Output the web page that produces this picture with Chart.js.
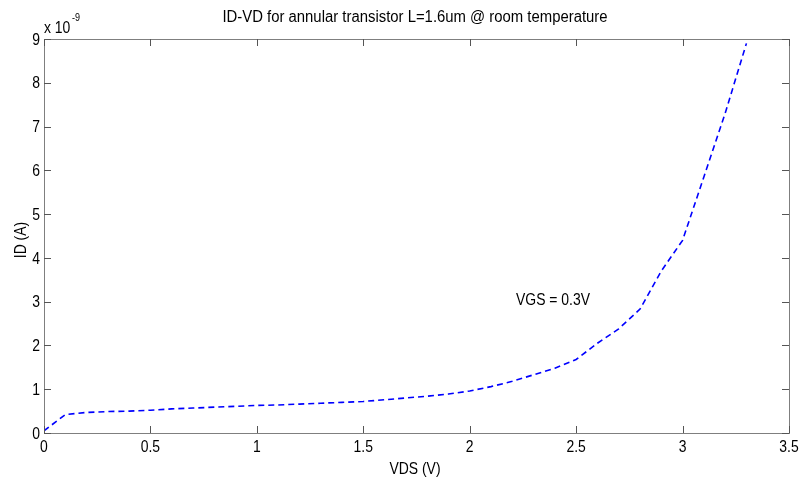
<!DOCTYPE html>
<html>
<head>
<meta charset="utf-8">
<script src="https://cdn.jsdelivr.net/npm/chart.js@4"></script>
<style>
html,body{margin:0;padding:0;background:#fff;}
#wrap{width:801px;height:478px;}
</style>
</head>
<body>
<div id="wrap"><canvas id="c" width="801" height="478"></canvas></div>
<script>
const vds = [0,0.1,0.2,0.3,0.4,0.5,0.6,0.7,0.8,0.9,1.0,1.1,1.2,1.3,1.4,1.5,1.6,1.7,1.8,1.9,2.0,2.1,2.2,2.3,2.4,2.5,2.6,2.7,2.8,2.9,3.0,3.1,3.2,3.3];
const idNano = [0.05,0.42,0.47,0.49,0.50,0.52,0.55,0.57,0.59,0.61,0.63,0.64,0.66,0.68,0.70,0.72,0.76,0.80,0.84,0.89,0.96,1.06,1.18,1.33,1.48,1.68,2.05,2.38,2.83,3.70,4.40,5.85,7.30,8.90];
const xTicks = [0,0.5,1,1.5,2,2.5,3,3.5];
const yTicks = [0,1,2,3,4,5,6,7,8,9];
const titleText = 'ID-VD for annular transistor L=1.6um @ room temperature';
const xLabel = 'VDS (V)';
const yLabel = 'ID (A)';
const annotation = 'VGS = 0.3V';

const FONT = '"Liberation Sans", Arial, sans-serif';
const SQ = 0.82; // horizontal condensing to mimic MATLAB's narrow Helvetica

function txt(ctx, s, x, y, size, align, sq, rot) {
  ctx.save();
  ctx.translate(x, y);
  if (rot) ctx.rotate(rot);
  ctx.scale(sq, 1);
  ctx.font = size + 'px ' + FONT;
  ctx.textAlign = align;
  ctx.textBaseline = 'middle';
  ctx.fillStyle = '#000';
  ctx.fillText(s, 0, 0);
  ctx.restore();
}

const boxPlugin = {
  id: 'box',
  afterDraw(chart) {
    const {ctx, chartArea: a, scales: {x, y}} = chart;
    ctx.save();
    ctx.strokeStyle = '#7f7f7f';
    ctx.lineWidth = 1;
    ctx.strokeRect(a.left + 0.5, a.top + 0.5, a.right - a.left, a.bottom - a.top);
    ctx.strokeStyle = '#555';
    const tl = 7;
    ctx.beginPath();
    x.ticks.forEach(t => {
      const px = Math.round(x.getPixelForValue(t.value)) + 0.5;
      ctx.moveTo(px, a.bottom); ctx.lineTo(px, a.bottom - tl);
      ctx.moveTo(px, a.top); ctx.lineTo(px, a.top + tl);
    });
    y.ticks.forEach(t => {
      const py = Math.round(y.getPixelForValue(t.value)) + 0.5;
      ctx.moveTo(a.left, py); ctx.lineTo(a.left + tl, py);
      ctx.moveTo(a.right, py); ctx.lineTo(a.right - tl, py);
    });
    ctx.stroke();
    ctx.restore();
    // tick labels
    x.ticks.forEach(t => txt(ctx, String(t.value), x.getPixelForValue(t.value), a.bottom + 14, 17, 'center', SQ));
    y.ticks.forEach(t => txt(ctx, String(t.value), a.left - 4, y.getPixelForValue(t.value) + 1, 17, 'right', SQ));
    // titles
    txt(ctx, titleText, 415, 18, 16, 'center', 0.93);
    txt(ctx, xLabel, 415, 469, 17, 'center', SQ);
    txt(ctx, yLabel, 21, 240, 17, 'center', SQ, -Math.PI / 2);
    // exponent
    txt(ctx, 'x 10', a.left, 28, 17, 'left', SQ);
    txt(ctx, '-9', a.left + 28, 18, 11, 'left', SQ);
    // annotation
    txt(ctx, annotation, 516, 300, 17, 'left', SQ);
  }
};

new Chart(document.getElementById('c'), {
  type: 'line',
  data: {
    datasets: [{
      data: vds.map((v, i) => ({x: v, y: idNano[i]})),
      borderColor: '#0000ff',
      borderWidth: 1.6,
      borderDash: [6, 4],
      pointRadius: 0,
      tension: 0,
      fill: false
    }]
  },
  options: {
    responsive: false,
    animation: false,
    layout: {padding: {left: 0, top: 39, right: 12, bottom: 0}},
    plugins: {legend: {display: false}, tooltip: {enabled: false}, title: {display: false}},
    scales: {
      x: {
        type: 'linear', min: 0, max: 3.5,
        afterBuildTicks: s => { s.ticks = xTicks.map(v => ({value: v})); },
        afterFit: s => { s.height = 45; },
        grid: {display: false, drawTicks: false},
        border: {display: false},
        ticks: {display: false}
      },
      y: {
        type: 'linear', min: 0, max: 9,
        afterBuildTicks: s => { s.ticks = yTicks.map(v => ({value: v})); },
        afterFit: s => { s.width = 44; },
        grid: {display: false, drawTicks: false},
        border: {display: false},
        ticks: {display: false}
      }
    }
  },
  plugins: [boxPlugin]
});
</script>
</body>
</html>
